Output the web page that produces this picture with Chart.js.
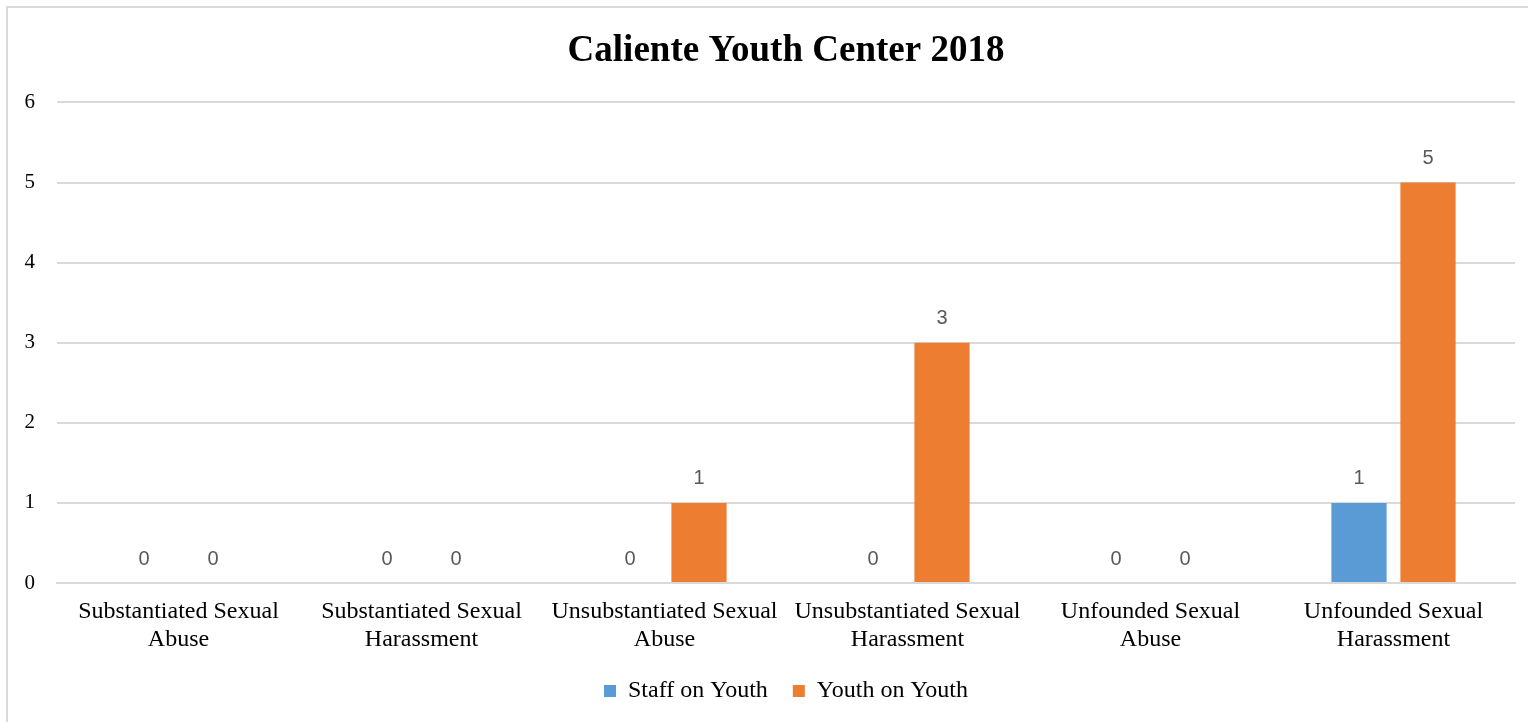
<!DOCTYPE html>
<html>
<head>
<meta charset="utf-8">
<script src="https://cdn.jsdelivr.net/npm/chart.js@4/dist/chart.umd.min.js"></script>
<style>
html,body{margin:0;padding:0;background:#fff;overflow:hidden;width:1528px;height:722px;}
#frame{position:absolute;left:6px;top:6px;width:1540px;height:740px;border:2px solid #d9d9d9;box-sizing:border-box;}
#wrap{position:absolute;left:0;top:0;width:1528px;height:722px;}
</style>
</head>
<body>
<div id="frame"></div>
<div id="wrap"><canvas id="c" width="1528" height="722"></canvas></div>
<script>
const chartTitle = "Caliente Youth Center 2018";
const categories = [
  ["Substantiated Sexual", "Abuse"],
  ["Substantiated Sexual", "Harassment"],
  ["Unsubstantiated Sexual", "Abuse"],
  ["Unsubstantiated Sexual", "Harassment"],
  ["Unfounded Sexual", "Abuse"],
  ["Unfounded Sexual", "Harassment"]
];
const seriesNames = ["Staff on Youth", "Youth on Youth"];
const staffOnYouth = [0, 0, 0, 0, 0, 1];
const youthOnYouth = [0, 0, 1, 3, 0, 5];
const yTicks = [0, 1, 2, 3, 4, 5, 6];

const SERIF = '"Liberation Serif", "Times New Roman", serif';

const valueLabels = {
  id: 'valueLabels',
  afterDatasetsDraw(chart) {
    const ctx = chart.ctx;
    ctx.save();
    ctx.font = '20px "Liberation Sans", Arial, sans-serif';
    ctx.fillStyle = '#595959';
    ctx.textAlign = 'center';
    ctx.textBaseline = 'middle';
    chart.data.datasets.forEach((ds, i) => {
      const meta = chart.getDatasetMeta(i);
      meta.data.forEach((bar, j) => {
        ctx.fillText(String(ds.data[j]), bar.x, bar.y - 24);
      });
    });
    ctx.restore();
  }
};

new Chart(document.getElementById('c'), {
  type: 'bar',
  data: {
    labels: categories,
    datasets: [
      { label: seriesNames[0], data: staffOnYouth, backgroundColor: '#5B9BD5', categoryPercentage: 0.568, barPercentage: 0.8 },
      { label: seriesNames[1], data: youthOnYouth, backgroundColor: '#ED7D31', categoryPercentage: 0.568, barPercentage: 0.8 }
    ]
  },
  options: {
    responsive: false,
    animation: false,
    layout: { padding: { left: 0, right: 13, top: 0, bottom: 9 } },
    plugins: {
      title: {
        display: true,
        text: chartTitle,
        fullSize: false,
        color: '#000',
        font: { family: SERIF, size: 37, weight: 'bold' },
        padding: { top: 29, bottom: 29 }
      },
      legend: {
        position: 'bottom',
        fullSize: false,
        labels: {
          color: '#000',
          font: { family: SERIF, size: 24 },
          boxWidth: 12, boxHeight: 12, padding: 25
        }
      },
      tooltip: { enabled: false }
    },
    scales: {
      x: {
        afterFit(axis) { axis.height = 71; },
        grid: { display: false, drawTicks: false },
        border: { display: true, color: '#d9d9d9', width: 2 },
        ticks: {
          color: '#000', padding: 15, maxRotation: 0, autoSkip: false,
          font: { family: SERIF, size: 24, lineHeight: 28 / 24 }
        }
      },
      y: {
        min: 0, max: 6,
        afterBuildTicks(axis) { axis.ticks = yTicks.map(v => ({ value: v })); },
        afterFit(axis) { axis.width = 57; },
        grid: { color: '#d9d9d9', lineWidth: 2, drawTicks: false },
        border: { display: false },
        ticks: {
          color: '#000', padding: 22,
          font: { family: SERIF, size: 21 }
        }
      }
    }
  },
  plugins: [valueLabels]
});
</script>
</body>
</html>
